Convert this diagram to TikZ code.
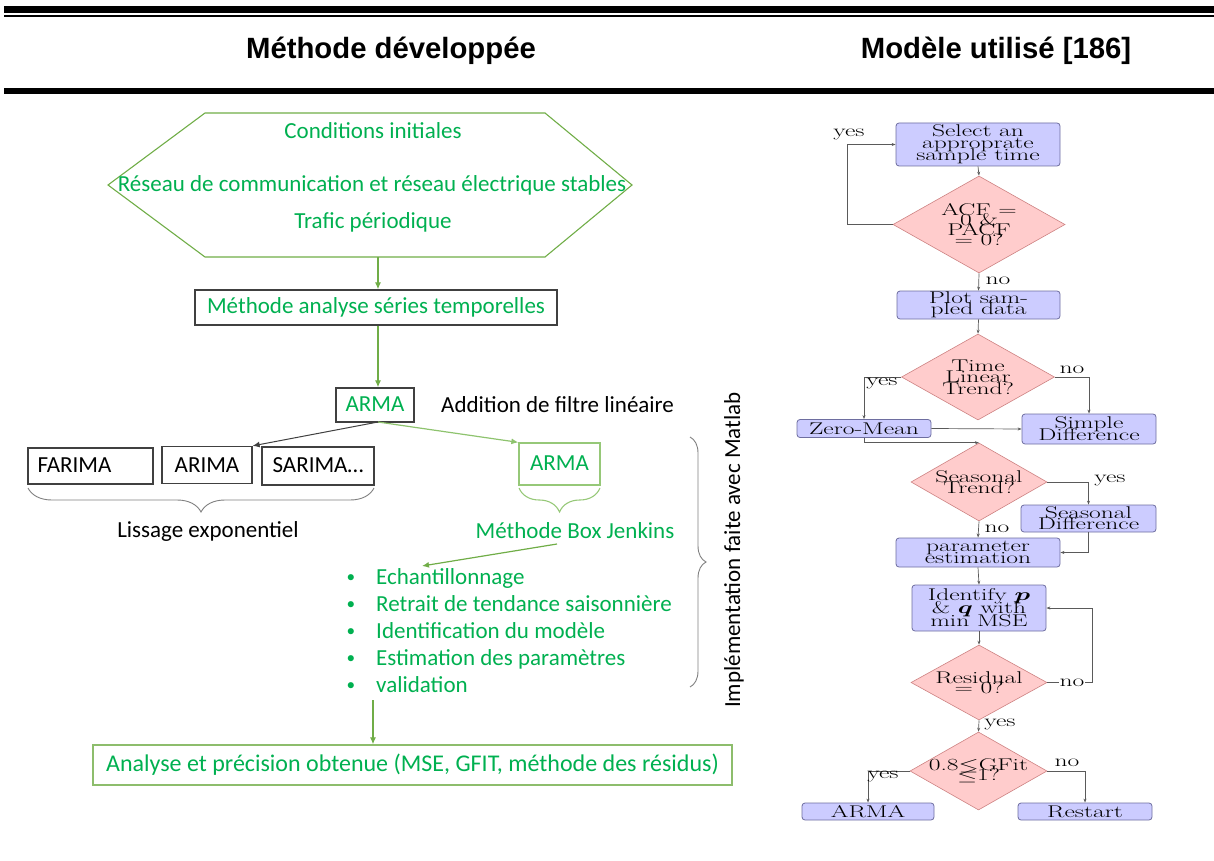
\documentclass[tikz,border=0pt]{standalone}
\usepackage{amsmath}
\usepackage{amssymb}
\usepackage{fontspec}
\usetikzlibrary{arrows.meta,shapes.geometric,decorations.pathreplacing}
\newfontfamily\calfont{Carlito}
\newfontfamily\arialb{Liberation Sans}[BoldFont={Liberation Sans Bold}]
\definecolor{gtxt}{RGB}{0,176,80}
\definecolor{gline}{RGB}{112,173,71}
\definecolor{glight}{RGB}{150,200,120}
\definecolor{dbord}{RGB}{64,64,64}
\definecolor{bfill}{RGB}{204,204,255}
\definecolor{bdraw}{RGB}{110,110,160}
\definecolor{rfill}{RGB}{255,204,204}
\definecolor{rdraw}{RGB}{205,130,130}
\definecolor{cline}{RGB}{90,90,90}
\newcommand{\sqz}[2][11.5]{\scalebox{1.5}[1]{\vbox{\fontsize{17}{#1}\selectfont\lineskiplimit=-100pt\lineskip=0pt\halign{\hfil##\hfil\cr #2\crcr}}}}
\tikzset{
  ctext/.style={font=\calfont\fontsize{23}{27}\selectfont, inner sep=0},
  gtext/.style={ctext, text=gtxt},
  btext/.style={ctext, text=black},
  lbox/.style={draw=dbord, line width=1.3pt, inner sep=0, text height=15, text depth=3},
  garrow/.style={draw=gline, line width=1.2pt, -{Latex[length=7pt,width=6pt]}},
  darrow/.style={draw=dbord, line width=1pt, -{Latex[length=7pt,width=6pt]}},
  rbox/.style={draw=bdraw, fill=bfill, rounded corners=3pt, line width=0.8pt, inner sep=0},
  rdia/.style={diamond, draw=rdraw, fill=rfill, line width=0.6pt, inner sep=0},
  rtxt/.style={inner sep=0},
  rline/.style={draw=cline, line width=0.7pt},
  rarrow/.style={rline, -{Stealth[length=4pt,width=3pt]}},
  rlab/.style={inner sep=0},
  brace/.style={decorate, decoration={brace, amplitude=#1}},
}
\begin{document}
\begin{tikzpicture}[x=1pt, y=-1pt]
\useasboundingbox (0,0) rectangle (1214,861);
% header rules
\fill[black] (4,6) rectangle (1214,13);
\fill[black] (4,15) rectangle (1214,17);
\fill[black] (4,88) rectangle (1214,94);
\node[font=\arialb\bfseries\fontsize{29.3}{33}\selectfont, inner sep=0] (h1) at (391,51) {Méthode développée};
\node[font=\arialb\bfseries\fontsize{29.3}{33}\selectfont, inner sep=0] (h2) at (996,51) {Modèle utilisé [186]};

% ---------- left diagram ----------
\draw[gline, line width=1.1pt] (108,185) -- (205,113) -- (545,113) -- (632,185) -- (545,257) -- (205,257) -- cycle;
\coordinate (hexb) at (378,257);
\node[gtext] (c1) at (373,131) {Conditions initiales};
\node[gtext] (c2) at (372,185) {Réseau de communication et réseau électrique stables};
\node[gtext] (c3) at (373,222) {Trafic périodique};

\node[lbox, minimum width=362, minimum height=35, gtext] (mast) at (376,307.5) {Méthode analyse séries temporelles};
\draw[garrow] (hexb) -- (hexb |- mast.north);

\node[lbox, minimum width=78, minimum height=34, gtext] (arma1) at (375,405) {ARMA};
\draw[garrow] (mast.south -| 378,0) -- (arma1.north -| 378,0);
\node[btext, anchor=west] (addf) at (441,405) {Addition de filtre linéaire};

\node[lbox, minimum width=125, minimum height=36] (farima) at (90.5,466) {};
\node[btext, anchor=west, text height=15, text depth=3] (farimat) at ([xshift=10pt]farima.west) {FARIMA};
\node[lbox, minimum width=90, minimum height=37] (arima) at (207,465) {};
\node[btext, text height=15, text depth=3] (arimat) at (207,466) {ARIMA};
\node[lbox, minimum width=112, minimum height=38, btext] (sarima) at (318,466) {SARIMA\ldots};
\node[lbox, draw=glight, minimum width=81, minimum height=42, gtext] (arma2) at (559.5,464) {ARMA};

\coordinate (a1s) at (378,422);
\draw[darrow] (a1s) -- (arima.north east);
\draw[garrow, draw=glight!80!gline] (a1s) -- (arma2.north west);

\draw[brace=24, draw=gray, line width=0.9pt] (374,488) -- (28,488);
\node[btext] (lis) at (208,531) {Lissage exponentiel};
\draw[brace=24, draw=glight, line width=1.1pt] (600,488) -- (519,488);
\node[gtext] (bj) at (575,531) {Méthode Box Jenkins};

\coordinate (lst) at (422,566);
\draw[garrow] (557,544) -- (lst);

\foreach \t/\yy [count=\i] in {Echantillonnage/577, Retrait de tendance saisonnière/604, Identification du modèle/631, Estimation des paramètres/658, validation/685}{
  \node[gtext, anchor=base, scale=0.75] (bu\i) at (351,\yy+5) {\textbullet};
  \node[gtext, anchor=base west] (st\i) at (376,\yy+7) {\t};
}
\coordinate (lend) at (373,700);
\node[draw=gline!80!white, line width=1.3pt, minimum width=639, minimum height=40, gtext, font=\calfont\fontsize{24}{28}\selectfont] (fin) at (412.5,765) {Analyse et précision obtenue (MSE, GFIT, méthode des résidus)};
\draw[garrow] (lend) -- (lend |- fin.north);

\draw[brace=16, draw=gray, line width=0.9pt] (690,437) -- (690,687);
\node[btext, rotate=90] (impl) at (734,550) {Implémentation faite avec Matlab};

% ---------- right diagram ----------
\node[rbox, minimum width=164, minimum height=43] (b1) at (978,144.5) {};
\node[rtxt] (t1) at (b1) {\sqz[12]{Select an\cr approprate\cr sample time}};
\node[rdia, minimum width=172, minimum height=97] (d1) at (979,224.5) {};
\node[rtxt] (td1) at (d1) {\sqz[10]{ACF =\cr 0 \&\cr PACF\cr = 0?}};
\node[rbox, minimum width=163, minimum height=28] (b2) at (978.5,305) {};
\node[rtxt] (t2) at (b2) {\sqz[11]{Plot sam-\cr pled data}};
\node[rdia, minimum width=153, minimum height=86] (d2) at (978,377) {};
\node[rtxt] (td2) at (d2) {\sqz[11.5]{Time\cr Linear\cr Trend?}};
\node[rbox, minimum width=134, minimum height=18] (zm) at (864,428.5) {};
\node[rtxt] (tzm) at (zm) {\sqz{Zero-Mean}};
\node[rbox, minimum width=134, minimum height=30] (sd) at (1089,429) {};
\node[rtxt] (tsd) at (sd) {\sqz[12]{Simple\cr Difference}};
\node[rdia, minimum width=136, minimum height=78] (d3) at (979,482) {};
\node[rtxt] (td3) at (d3) {\sqz[11]{Seasonal\cr Trend?}};
\node[rbox, minimum width=135, minimum height=27] (sdf) at (1088.5,518.5) {};
\node[rtxt] (tsdf) at (sdf) {\sqz[11]{Seasonal\cr Difference}};
\node[rbox, minimum width=164, minimum height=29] (pe) at (978,552.5) {};
\node[rtxt] (tpe) at (pe) {\sqz[12]{parameter\cr estimation}};
\node[rbox, minimum width=134, minimum height=46] (idq) at (979,608) {};
\node[rtxt] (tidq) at (idq) {\sqz[13]{Identify $\boldsymbol{p}$\cr \& $\boldsymbol{q}$ with\cr min MSE}};
\node[rdia, minimum width=136, minimum height=75] (d4) at (979,682.5) {};
\node[rtxt] (td4) at (d4) {\sqz[10]{Residual\cr = 0?}};
\node[rdia, minimum width=137, minimum height=78] (d5) at (978.5,771) {};
\node[rtxt] (td5) at (d5) {\sqz[10]{0.8$\leq$GFit\cr $\leq$1?}};
\node[rbox, minimum width=132, minimum height=17] (ar) at (868,811.5) {};
\node[rtxt] (tar) at (ar) {\sqz{ARMA}};
\node[rbox, minimum width=134, minimum height=17] (rs) at (1085,811.5) {};
\node[rtxt] (trs) at (rs) {\sqz{Restart}};

% connectors
\draw[rarrow] (b1.south) -- (d1.north);
\draw[rarrow] (d1.west) -- ++(-45,0) |- (b1.west);
\node[rlab] (ly1) at (849,134) {\sqz{yes}};
\draw[rarrow] (d1.south) -- (b2.north);
\node[rlab] (ln1) at (998,281) {\sqz{no}};
\draw[rarrow] (b2.south) -- (d2.north);
\draw[rarrow] (d2.west) -| (zm.north);
\node[rlab] (ly2) at (882,383) {\sqz{yes}};
\draw[rarrow] (d2.east) -| (sd.north);
\node[rlab] (ln2) at (1072,370) {\sqz{no}};
\draw[rarrow] (zm.east) -- (sd.west);
\draw[rarrow] (zm.south) |- (d3.north);
\draw[rarrow] (d3.east) -| (sdf.north);
\node[rlab] (ly3) at (1110,480) {\sqz{yes}};
\draw[rarrow] (d3.south) -- (pe.north);
\node[rlab] (ln3) at (997,529) {\sqz{no}};
\draw[rarrow] (sdf.south) |- (pe.east);
\draw[rarrow] (pe.south) -- (idq.north);
\draw[rarrow] (idq.south) -- (d4.north);
\draw[rarrow] (d4.east) -- ++(45,0) |- (idq.east);
\node[rlab, fill=white, inner xsep=1] (ln4) at (1072,683) {\sqz{no}};
\draw[rarrow] (d4.south) -- (d5.north);
\node[rlab] (ly4) at (1000,724) {\sqz{yes}};
\draw[rarrow] (d5.west) -| (ar.north);
\node[rlab] (ly5) at (883,776) {\sqz{yes}};
\draw[rarrow] (d5.east) -| (rs.north);
\node[rlab] (ln5) at (1067,763) {\sqz{no}};
\end{tikzpicture}
\end{document}
